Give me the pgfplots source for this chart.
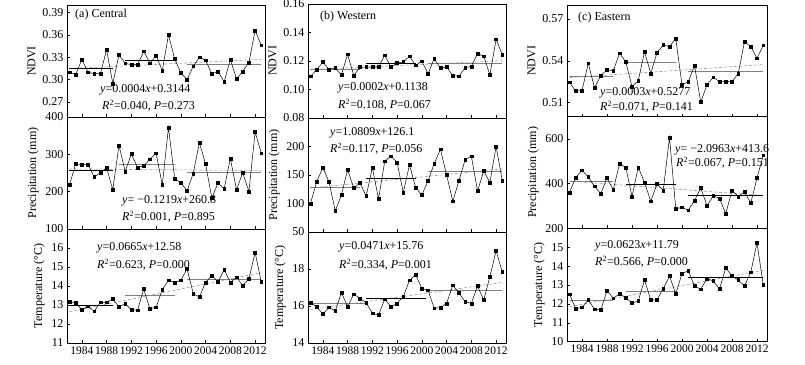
\documentclass[border=0pt]{standalone}
\usepackage{pgfplots}
\pgfplotsset{compat=1.18}
\usepackage{pgfplotstable}
\usepackage{fontspec}
\setmainfont{Liberation Serif}

\pgfplotstableread{
year aN aP aT bN bP bT cN cP cT
1982 0.310 218 13.19 0.1093 100 16.18 0.5246 361 12.51
1983 0.307 274 13.10 0.1138 138 15.96 0.5183 428 11.74
1984 0.327 273 12.75 0.1193 163 15.56 0.5187 460 11.82
1985 0.310 273 12.93 0.1141 138 15.93 0.5383 430 12.21
1986 0.308 239 12.67 0.1150 87 15.73 0.5206 388 11.72
1987 0.308 251 13.14 0.1103 115 16.73 0.5294 355 11.68
1988 0.340 264 13.14 0.1247 159 15.96 0.5336 425 12.70
1989 0.295 205 13.32 0.1098 127 16.64 0.5329 373 12.30
1990 0.333 324 12.90 0.1157 136 16.41 0.5454 488 12.53
1991 0.322 254 13.07 0.1157 113 16.18 0.5393 473 12.33
1992 0.320 301 12.75 0.1157 163 15.61 0.5216 343 12.04
1993 0.320 265 12.72 0.1157 108 15.52 0.5258 473 12.16
1994 0.338 269 13.84 0.1240 174 16.36 0.5464 406 13.26
1995 0.322 287 12.80 0.1157 183 15.96 0.5310 321 12.21
1996 0.332 303 12.88 0.1186 172 16.14 0.5459 398 12.21
1997 0.312 218 13.81 0.1193 119 16.50 0.5513 370 12.82
1998 0.360 372 14.30 0.1233 168 17.39 0.5502 607 13.47
1999 0.328 235 14.19 0.1170 128 17.69 0.5560 287 12.53
2000 0.309 224 14.30 0.1198 115 16.94 0.5228 294 13.61
2001 0.300 202 14.90 0.1110 140 16.85 0.5251 281 13.75
2002 0.318 249 13.60 0.1217 170 15.88 0.5365 324 12.95
2003 0.330 331 13.42 0.1150 195 15.91 0.5105 381 12.77
2004 0.326 274 14.19 0.1157 150 16.14 0.5228 301 13.35
2005 0.308 183 14.56 0.1098 104 17.12 0.5282 346 13.21
2006 0.311 223 14.21 0.1093 140 16.71 0.5251 333 12.79
2007 0.297 208 14.86 0.1153 177 16.23 0.5251 266 13.91
2008 0.327 289 14.19 0.1162 183 16.14 0.5251 369 13.47
2009 0.301 205 14.46 0.1252 122 17.08 0.5310 343 13.26
2010 0.311 251 14.02 0.1233 157 16.32 0.5537 363 12.95
2011 0.323 200 14.37 0.1103 137 17.60 0.5502 313 13.67
2012 0.366 360 15.77 0.1352 200 18.99 0.5419 425 15.23
2013 0.346 303 14.21 0.1245 140 17.83 0.5511 527 13.00
}\data

\pgfplotsset{
  base/.style={scale only axis, width=198pt,
    xmin=1981.6, xmax=2013.6,
    xtick={1984,1988,...,2012},
    xtick pos=lower, ytick pos=left, tick align=inside,
    major tick length=3pt,
    tick style={black, line width=0.5pt},
    axis line style={line width=0.7pt},
    ticklabel style={font=\fontsize{12}{14}\selectfont},
    label style={font=\fontsize{12}{14}\selectfont},
    /pgf/number format/assume math mode=true,
    /pgf/number format/1000 sep={},
    xticklabels=\empty,
    clip=false,
  },
  bottomrow/.style={xticklabels={1984,1988,1992,1996,2000,2004,2008,2012},
    xticklabel style={font=\fontsize{11.5}{13}\selectfont}},
  twodec/.style={yticklabel style={/pgf/number format/.cd, fixed, fixed zerofill, precision=2}},
  data/.style={black, line width=0.5pt, mark=square*, mark size=1.4pt},
  trend/.style={gray!80, line width=0.6pt, dash pattern=on 3pt off 2pt},
  segk/.style={black, line width=0.8pt},
  segg/.style={gray, line width=0.8pt},
}
\newcommand{\eqfont}{\fontsize{12}{14}\selectfont}

\begin{document}
\begin{tikzpicture}
\useasboundingbox (0,0) rectangle (805pt,364pt);

% ---------------- Column (a) ----------------
\begin{axis}[base, twodec, at={(67pt,359pt)}, anchor=north west, height=112pt,
  ymin=0.25, ymax=0.40, ytick={0.27,0.30,0.33,0.36,0.39}, ylabel={NDVI}]
\addplot[trend] coordinates {(1982,0.3148) (2013,0.3272)};
\addplot[segk] coordinates {(1982,0.3153) (1989,0.3153)};
\addplot[segk] coordinates {(1991,0.326) (1999,0.326)};
\addplot[segg] coordinates {(2001,0.3206) (2013,0.3206)};
\addplot[data] table[x=year, y=aN] {\data};
\end{axis}
\begin{axis}[base, at={(67pt,247pt)}, anchor=north west, height=112pt,
  ymin=100, ymax=400, ytick={100,200,300,400}, ylabel={Precipitation (mm)}]
\addplot[trend] coordinates {(1982,260.7) (2013,256.9)};
\addplot[segk] coordinates {(1982,258) (1989,258)};
\addplot[segg] coordinates {(1990,272) (1999,272)};
\addplot[segg] coordinates {(2001,252) (2013,252)};
\addplot[data] table[x=year, y=aP] {\data};
\end{axis}
\begin{axis}[base, bottomrow, at={(67pt,135pt)}, anchor=north west, height=114pt,
  ymin=11, ymax=17, ytick={11,12,...,16}, ylabel={Temperature (°C)}]
\addplot[trend] coordinates {(1982,12.65) (2013,14.71)};
\addplot[segk] coordinates {(1982,13.0) (1989,13.0)};
\addplot[segg] coordinates {(1991,13.49) (1999,13.49)};
\addplot[segg] coordinates {(2001,14.37) (2013,14.37)};
\addplot[data] table[x=year, y=aT] {\data};
\end{axis}

% ---------------- Column (b) ----------------
\begin{axis}[base, twodec, at={(308pt,360pt)}, anchor=north west, height=114pt,
  ymin=0.08, ymax=0.16, ytick={0.08,0.10,0.12,0.14,0.16}, ylabel={NDVI}]
\addplot[trend] coordinates {(1982,0.1140) (2013,0.1202)};
\addplot[segg] coordinates {(1982,0.1141) (1990,0.1141)};
\addplot[segk] coordinates {(1991,0.1186) (1999,0.1186)};
\addplot[segg] coordinates {(2001,0.1180) (2013,0.1180)};
\addplot[data] table[x=year, y=bN] {\data};
\end{axis}
\begin{axis}[base, at={(308pt,246pt)}, anchor=north west, height=114pt,
  ymin=50, ymax=250, ytick={50,100,150,200}, ylabel={Precipitation (mm)}]
\addplot[trend] coordinates {(1982,127.2) (2013,160.7)};
\addplot[segg] coordinates {(1982,128) (1990,128)};
\addplot[segk] coordinates {(1991,144) (1999,144)};
\addplot[segg] coordinates {(2001,157) (2013,157)};
\addplot[data] table[x=year, y=bP] {\data};
\end{axis}
\begin{axis}[base, bottomrow, at={(308pt,132pt)}, anchor=north west, height=111pt,
  ymin=14, ymax=20, ytick={14,16,18}, ylabel={Temperature (°C)}]
\addplot[trend] coordinates {(1982,15.81) (2013,17.27)};
\addplot[segg] coordinates {(1982,16.14) (1991,16.14)};
\addplot[segk] coordinates {(1991,16.41) (2000.7,16.41)};
\addplot[segg] coordinates {(2000.7,16.84) (2013,16.84)};
\addplot[data] table[x=year, y=bT] {\data};
\end{axis}

% ---------------- Column (c) ----------------
\begin{axis}[base, twodec, width=200pt, at={(567pt,359pt)}, anchor=north west, height=111.7pt,
  ymin=0.50, ymax=0.58, ytick={0.51,0.54,0.57}, ylabel={NDVI}]
\addplot[trend] coordinates {(1982,0.5280) (2013,0.5373)};
\addplot[segg] coordinates {(1982,0.5289) (1989,0.5289)};
\addplot[segg] coordinates {(1991,0.5388) (1999,0.5388)};
\addplot[segg] coordinates {(2001,0.5324) (2013,0.5324)};
\addplot[data] table[x=year, y=cN] {\data};
\end{axis}
\begin{axis}[base, width=200pt, at={(567pt,247.3pt)}, anchor=north west, height=111.6pt,
  ymin=200, ymax=700, ytick={200,400,600}, ylabel={Precipitation (mm)}]
\addplot[trend] coordinates {(1982,411.5) (2013,346.5)};
\addplot[segg] coordinates {(1982,410) (1989,410)};
\addplot[segk] coordinates {(1991,395) (1999,395)};
\addplot[segk] coordinates {(2001,348) (2013,348)};
\addplot[data] table[x=year, y=cP] {\data};
\end{axis}
\begin{axis}[base, bottomrow, width=200pt, at={(567pt,135.7pt)}, anchor=north west, height=113.4pt,
  ymin=10, ymax=16, ytick={10,11,...,15}, ylabel={Temperature (°C)}]
\addplot[trend] coordinates {(1982,11.85) (2013,13.78)};
\addplot[segg] coordinates {(1982,12.16) (1989,12.16)};
\addplot[segg] coordinates {(1991,12.65) (1999,12.65)};
\addplot[segk] coordinates {(2001,13.39) (2013,13.39)};
\addplot[data] table[x=year, y=cT] {\data};
\end{axis}

% ---------------- Titles and equations ----------------
\begin{scope}[every node/.style={font=\eqfont, inner sep=0pt, anchor=west}]
\node at (75pt,349pt) {(a) Central};
\node at (320pt,347pt) {(b) Western};
\node at (578pt,346pt) {(c) Eastern};

\node at (100pt,274pt) {\textit{y}=0.0004\textit{x}+0.3144};
\node at (102pt,258pt) {\textit{R}\textsuperscript{2}=0.040, \textit{P}=0.273};
\node at (122pt,163pt) {\textit{y}= −0.1219\textit{x}+260.8};
\node at (122pt,147pt) {\textit{R}\textsuperscript{2}=0.001, \textit{P}=0.895};
\node at (97pt,116pt) {\textit{y}=0.0665\textit{x}+12.58};
\node at (97pt,99pt) {\textit{R}\textsuperscript{2}=0.623, \textit{P}=0.000};

\node at (338pt,276pt) {\textit{y}=0.0002\textit{x}+0.1138};
\node at (338pt,259pt) {\textit{R}\textsuperscript{2}=0.108, \textit{P}=0.067};
\node at (330pt,231pt) {\textit{y}=1.0809\textit{x}+126.1};
\node at (330pt,215pt) {\textit{R}\textsuperscript{2}=0.117, \textit{P}=0.056};
\node at (339pt,117pt) {\textit{y}=0.0471\textit{x}+15.76};
\node at (339pt,99pt) {\textit{R}\textsuperscript{2}=0.334, \textit{P}=0.001};

\node at (600pt,271pt) {\textit{y}=0.0003\textit{x}+0.5277};
\node at (600pt,257pt) {\textit{R}\textsuperscript{2}=0.071, \textit{P}=0.141};
\node at (675pt,214pt) {\textit{y}= −2.0963\textit{x}+413.6};
\node at (676pt,201pt) {\textit{R}\textsuperscript{2}=0.067, \textit{P}=0.151};
\node at (595pt,118pt) {\textit{y}=0.0623\textit{x}+11.79};
\node at (595pt,102pt) {\textit{R}\textsuperscript{2}=0.566, \textit{P}=0.000};
\end{scope}
\end{tikzpicture}
\end{document}
